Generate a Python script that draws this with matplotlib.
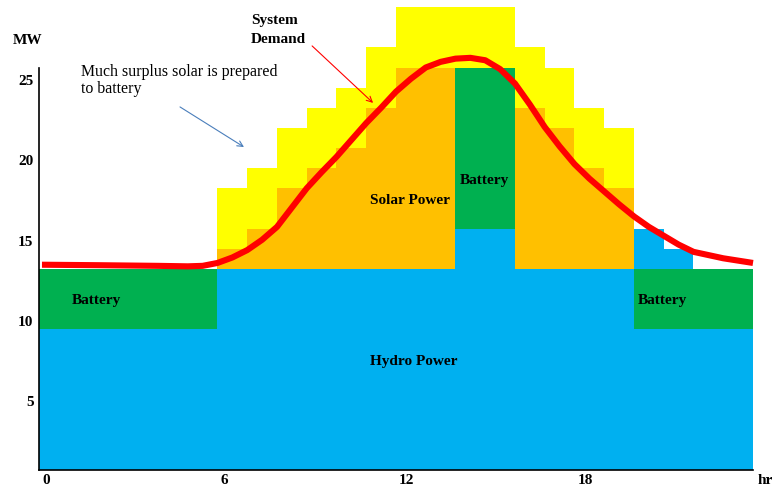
import matplotlib
matplotlib.use("Agg")
import matplotlib.pyplot as plt
import matplotlib.transforms as mtransforms
import numpy as np

# ---------------- data ----------------
hours = list(range(24))  # hourly blocks, each 1 hr wide

hydro = [8.75]*6 + [12.5]*8 + [15.0, 15.0] + [12.5]*4 + [8.75]*4
battery = [3.75]*6 + [0.0]*8 + [10.0, 10.0] + [0.0]*4 + [3.75]*4
hydro_extra = [0.0]*20 + [2.5, 1.25, 0.0, 0.0]
solar_used = [0.0]*6 + [1.25, 2.5, 5.0, 6.25, 7.5, 10.0, 12.5, 12.5,
                        0.0, 0.0, 10.0, 8.75, 6.25, 5.0] + [0.0]*4
surplus = [0.0]*6 + [3.75, 3.75, 3.75, 3.75, 3.75, 3.75, 3.75, 3.75,
                     3.75, 3.75, 3.75, 3.75, 3.75, 3.75] + [0.0]*4

demand_hr = [0.1, 2, 4, 5, 5.5, 6, 6.5, 7, 7.5, 8, 8.5, 9, 9.5, 10, 10.5,
             11, 11.5, 12, 12.5, 13, 13.5, 14, 14.5, 15, 15.5, 16, 16.5,
             17, 17.5, 18, 18.5, 19, 19.5, 20, 20.5, 21, 21.5, 22, 23, 24]
demand_mw = [12.75, 12.72, 12.68, 12.65, 12.68, 12.86, 13.2, 13.66, 14.3,
             15.1, 16.3, 17.5, 18.5, 19.45, 20.5, 21.55, 22.5, 23.5, 24.3,
             25.0, 25.35, 25.55, 25.6, 25.45, 24.9, 24.0, 22.7, 21.3, 20.1,
             19.0, 18.1, 17.3, 16.5, 15.75, 15.1, 14.55, 14.0, 13.55, 13.15, 12.86]

x_ticks = [0, 6, 12, 18]
x_ticklabels = ["0", "6", "12", "18"]
y_ticks = [5, 10, 15, 20, 25]
y_ticklabels = ["5", "10", "15", "20", "25"]

# ---------------- style ----------------
BLUE = "#00B0F0"
GREEN = "#00B050"
ORANGE = "#FFC000"
YELLOW = "#FFFF00"
RED = "#FF0000"
SERIF = ["Liberation Serif", "DejaVu Serif"]

plt.rcParams["font.family"] = SERIF

W, H = 772, 488
fig = plt.figure(figsize=(W/100, H/100), dpi=100)
x0, x1 = 39, 753
ybot = 470
ax = fig.add_axes([x0/W, 1 - ybot/H, (x1 - x0)/W, ybot/H])
ymax = ybot / 16.1
ax.set_xlim(0, 24)
ax.set_ylim(0, ymax)

# stacked hourly blocks
layers = [(hydro, BLUE), (battery, GREEN), (hydro_extra, BLUE),
          (solar_used, ORANGE), (surplus, YELLOW)]
bottom = np.zeros(len(hours))
for vals, col in layers:
    vals = np.asarray(vals, dtype=float)
    ax.bar(hours, vals, width=1.0, bottom=bottom, align="edge",
           color=col, edgecolor=col, linewidth=0.0, zorder=1)
    bottom = bottom + vals

# demand curve
ax.plot(demand_hr, demand_mw, color=RED, lw=4.4, solid_capstyle="butt",
        solid_joinstyle="round", zorder=4, clip_on=False)

# spines
for s in ["top", "right"]:
    ax.spines[s].set_visible(False)
ax.spines["left"].set_bounds(0, 25)
ax.spines["left"].set_linewidth(1.2)
ax.spines["bottom"].set_linewidth(1.2)
ax.spines["left"].set_zorder(5)
ax.spines["bottom"].set_zorder(5)

ax.set_xticks(x_ticks)
ax.set_xticklabels(x_ticklabels, fontsize=11, fontweight="bold")
ax.set_yticks(y_ticks)
ax.set_yticklabels(y_ticklabels, fontsize=11, fontweight="bold")
ax.tick_params(axis="both", length=0)
ax.tick_params(axis="x", pad=3)
ax.tick_params(axis="y", pad=4)
for lab in ax.get_xticklabels():
    lab.set_ha("left")
    lab.set_transform(lab.get_transform() +
                      mtransforms.ScaledTranslation(3/100, 0, fig.dpi_scale_trans))
for lab in ax.get_yticklabels():
    lab.set_transform(lab.get_transform() +
                      mtransforms.ScaledTranslation(0, -12/100, fig.dpi_scale_trans))

# labels inside
bold = dict(fontsize=11, fontweight="bold", ha="center", va="center", color="black", zorder=6)
ax.text(1.93, 10.5, "Battery", **bold)
ax.text(14.96, 18.0, "Battery", **bold)
ax.text(20.94, 10.5, "Battery", **bold)
ax.text(12.47, 16.77, "Solar Power", **bold)
ax.text(12.6, 6.77, "Hydro Power", **bold)

# annotations
ax.text(1.41, 24.7, "Much surplus solar is prepared", fontsize=11.4, ha="left", va="center")
ax.text(1.41, 23.66, "to battery", fontsize=11.4, ha="left", va="center")
ax.annotate("", xy=(6.89, 20.06), xytext=(4.74, 22.55),
            arrowprops=dict(arrowstyle="->", color="#4A7EBB", lw=0.8,
                            mutation_scale=10, shrinkA=0, shrinkB=0))
ax.text(7.13, 27.95, "System", fontsize=11, fontweight="bold", ha="left", va="center")
ax.text(7.13, 26.77, "Demand", fontsize=11, fontweight="bold", ha="left", va="center")
ax.annotate("", xy=(11.23, 22.8), xytext=(9.18, 26.34),
            arrowprops=dict(arrowstyle="->", color=RED, lw=0.8,
                            mutation_scale=10, shrinkA=0, shrinkB=0))

fig.text(28/W, 1 - 40/H, "MW", fontsize=11, fontweight="bold", ha="center", va="center")
fig.text(765/W, 1 - 481/H, "hr", fontsize=11, fontweight="bold", ha="center", va="center")

fig.savefig("out.png", dpi=100)
